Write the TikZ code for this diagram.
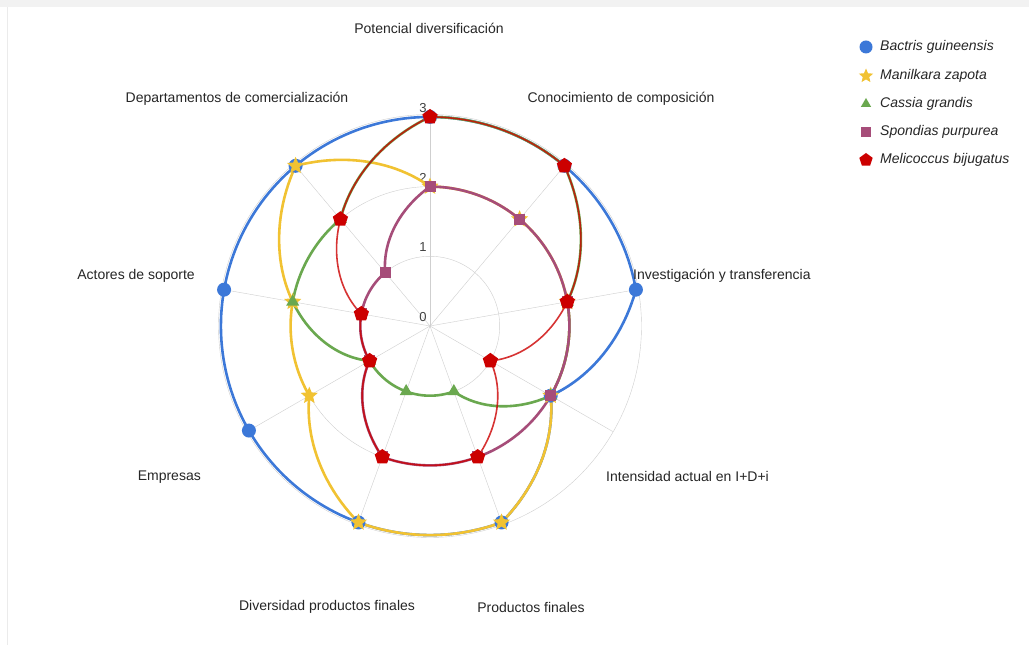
\documentclass[tikz,border=0pt]{standalone}
\usepackage{fontspec}
\setmainfont{Liberation Sans}
\usetikzlibrary{shapes.geometric,positioning}

\definecolor{cblue}{HTML}{3C78D8}
\definecolor{cyellow}{HTML}{F1C232}
\definecolor{cgreen}{HTML}{6AA84F}
\definecolor{cpurple}{HTML}{A64D79}
\definecolor{cred}{HTML}{CC0000}
\definecolor{gridgray}{HTML}{CFCFCF}

\begin{document}
\begin{tikzpicture}[
  x=1pt,y=1pt,
  lbl/.style={font=\fontsize{14}{16}\selectfont,text=black!85,inner sep=0pt},
  tick/.style={font=\fontsize{13}{15}\selectfont,text=black!75,inner sep=0pt},
  leg/.style={font=\fontsize{14}{16}\selectfont\itshape,text=black!85,inner sep=0pt},
  lnb/.style={cblue,line width=2.6pt,line cap=round},
  lny/.style={cyellow,line width=2.6pt,line cap=round},
  lng/.style={cgreen,line width=2.6pt,line cap=round},
  lnp/.style={cpurple,line width=2.6pt,line cap=round},
  lnr/.style={cred,line width=1.6pt,line cap=round,opacity=0.8},
  mkb/.style={circle,fill=cblue,minimum size=14pt,inner sep=0pt},
  mky/.style={star,star points=5,star point ratio=2.2,fill=cyellow,minimum size=18pt,inner sep=0pt},
  mkg/.style={regular polygon,regular polygon sides=3,fill=cgreen,minimum size=15pt,inner sep=0pt},
  mkp/.style={rectangle,fill=cpurple,minimum size=11pt,inner sep=0pt},
  mkr/.style={regular polygon,regular polygon sides=5,fill=cred,minimum size=16pt,inner sep=0pt}
]

\useasboundingbox (0,0) rectangle (1029,645);
\fill[white] (0,0) rectangle (1029,645);
\fill[black!5] (0,638) rectangle (1029,645);
\draw[black!8,line width=1pt] (7,0) -- (7,638);

\def\ru{69.7}

% one line per series, radius linear in angle between the spokes
\def\radar#1#2{
  \foreach \k in {0,...,8}{
    \pgfmathsetmacro\va{#2[\k]}
    \pgfmathsetmacro\vb{#2[\k+1]}
    \draw[#1] plot[domain=0:1,samples=24,variable=\t] ({90-40*(\k+\t)}:{\ru*(\va+(\vb-\va)*\t)});
  }
}

\def\marks#1#2#3{
  \foreach \k in {0,...,8}{
    \pgfmathsetmacro\va{#3[\k]}
    \node[#1] (#2\k) at ({90-40*\k}:{\ru*\va}) {};
  }
}

\begin{scope}[shift={(430,319)}]

\foreach \r in {1,2} \draw[gridgray] (0,0) circle ({\r*\ru});
\draw[gridgray] (0,0) circle (211.5);
\foreach \k in {0,...,8} \draw[gridgray] (0,0) -- ({90-40*\k}:211.5);

\foreach \v in {0,...,3} \node[tick] (tk\v) at (-7,{\v*\ru+9}) {\v};

\radar{lnb}{{3,3,3,2,3,3,3,3,3,3}}
\radar{lny}{{2,2,2,2,3,3,2,2,3,2}}
\radar{lng}{{3,3,2,2,1,1,1,2,2,3}}
\radar{lnp}{{2,2,2,2,2,2,1,1,1,2}}
\radar{lnr}{{3,3,2,1,2,2,1,1,2,3}}

\marks{mkb}{b}{{3,3,3,2,3,3,3,3,3}}
\marks{mky}{y}{{2,2,2,2,3,3,2,2,3}}
\marks{mkg}{g}{{3,3,2,2,1,1,1,2,2}}
\marks{mkp}{p}{{2,2,2,2,2,2,1,1,1}}
\marks{mkr}{r}{{3,3,2,1,2,2,1,1,2}}

\end{scope}

% axis labels
\node[lbl] (ax0) at (429,617) {Potencial diversificación};
\node[lbl] (ax1) at (621,546) {Conocimiento de composición};
\node[lbl,anchor=west] (ax2) at (633,369) {Investigación y transferencia};
\node[lbl,anchor=west] (ax3) at (606,168) {Intensidad actual en I+D+i};
\node[lbl] (ax4) at (531,38) {Productos finales};
\node[lbl] (ax5) at (327,38) {Diversidad productos finales};
\node[lbl,anchor=east] (ax6) at (201,168) {Empresas};
\node[lbl,anchor=east] (ax7) at (195,369) {Actores de soporte};
\node[lbl] (ax8) at (237,546) {Departamentos de comercialización};

% legend
\node[mkb,minimum size=13pt] (lb) at (866,598) {};
\node[mky,minimum size=15pt] (ly) at (866,569) {};
\node[mkg,minimum size=12pt] (lg) at (866,541) {};
\node[mkp,minimum size=10pt] (lp) at (866,513) {};
\node[mkr,minimum size=14pt] (lr) at (866,485) {};
\node[leg,right=14pt of lb.center] (lbt) {Bactris guineensis};
\node[leg,right=14pt of ly.center] (lyt) {Manilkara zapota};
\node[leg,right=14pt of lg.center] (lgt) {Cassia grandis};
\node[leg,right=14pt of lp.center] (lpt) {Spondias purpurea};
\node[leg,right=14pt of lr.center] (lrt) {Melicoccus bijugatus};

\end{tikzpicture}
\end{document}
